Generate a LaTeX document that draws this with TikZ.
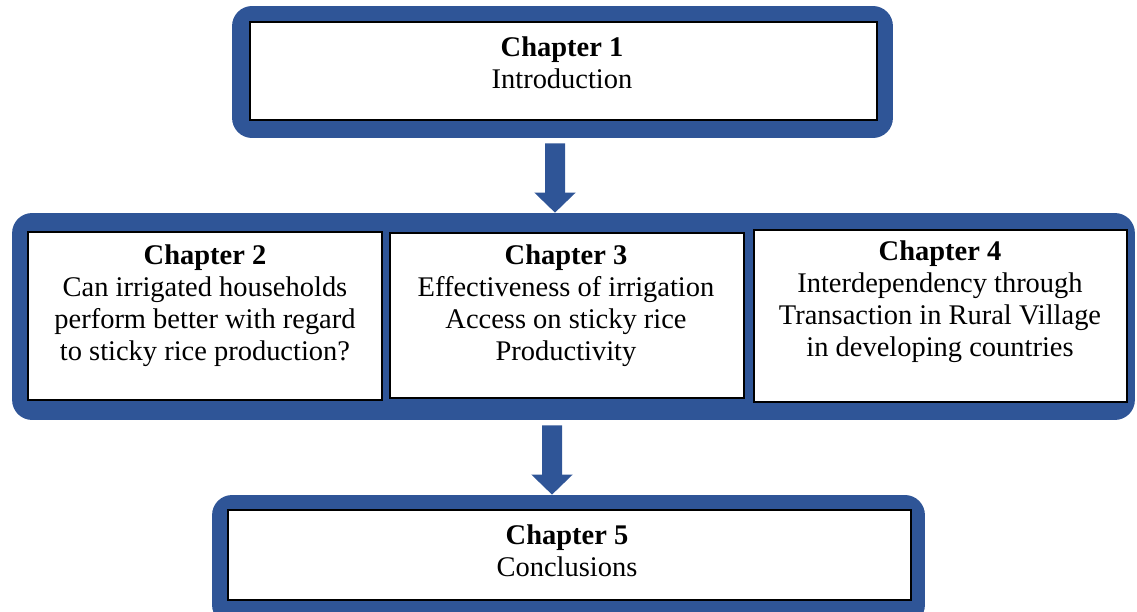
\documentclass[tikz,border=0pt]{standalone}
\usepackage{xcolor}
\usepackage{fontspec}
\usepackage{tikz}
\usetikzlibrary{arrows.meta, positioning, calc}
\setmainfont{Liberation Serif}
\definecolor{chapterblue}{RGB}{47, 85, 151}

\tikzset{
    chapframe/.style={fill=chapterblue, draw=none, rounded corners=0.4cm, inner sep=0pt},
    chapbox/.style={fill=white, draw=black, line width=0.8pt, inner sep=0pt},
    chaptext/.style={align=center, inner sep=0pt, font=\fontsize{16.2}{18.2}\selectfont},
    blockarrow/.style={draw=chapterblue, line width=0.4cm,
        -{Triangle[width=0.8cm, length=0.4cm]}, shorten <=0.1cm}
}

\begin{document}
\begin{tikzpicture}[x=0.02cm, y=-0.02cm]
            \useasboundingbox (0,0) rectangle (1137,612);
            % Chapter 1
            \node[chapframe, minimum width=13.22cm, minimum height=2.64cm] (frame1) at (562.5,72) {};
            \node[chapbox, minimum width=12.54cm, minimum height=1.96cm] (box1) at (563.5,71) {};
            \node[chaptext] (text1) at (562,63) {\textbf{Chapter 1}\\Introduction};
            % Chapters 2 to 4
            \node[chapframe, minimum width=22.46cm, minimum height=4.14cm] (frame2) at (573.5,316.5) {};
            \node[chapbox, minimum width=7.08cm, minimum height=3.36cm] (box2) at (205,316) {};
            \node[chapbox, minimum width=7.08cm, minimum height=3.30cm] (box3) at (567,315.5) {};
            \node[chapbox, minimum width=7.46cm, minimum height=3.44cm] (box4) at (940.5,316) {};
            \node[chaptext] (text2) at (205,306) {\textbf{Chapter 2}\\Can irrigated households\\perform better with regard\\to sticky rice production?};
            \node[chaptext] (text3) at (566,306) {\textbf{Chapter 3}\\Effectiveness of irrigation\\Access on sticky rice\\Productivity};
            \node[chaptext] (text4) at (940,302) {\textbf{Chapter 4}\\Interdependency through\\Transaction in Rural Village\\in developing countries};
            % Chapter 5
            \node[chapframe, minimum width=14.26cm, minimum height=2.6cm] (frame3) at (568.5,560) {};
            \node[chapbox, minimum width=13.66cm, minimum height=1.8cm] (box5) at (569.5,555) {};
            \node[chaptext] (text5) at (567,551) {\textbf{Chapter 5}\\Conclusions};
            % arrows
            \draw[blockarrow] ([xshift=-0.15cm]frame1.south) -- ([xshift=-0.37cm]frame2.north);
            \draw[blockarrow] ([xshift=-0.43cm]frame2.south) -- ([xshift=-0.33cm]frame3.north);
        \end{tikzpicture}
\end{document}
